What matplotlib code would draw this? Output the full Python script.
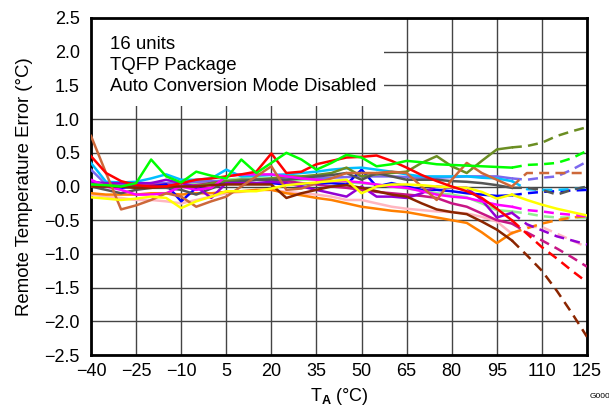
import matplotlib.pyplot as plt
from matplotlib.patches import Rectangle

plt.rcParams['font.family'] = ['Liberation Sans', 'DejaVu Sans']
plt.rcParams['mathtext.fontset'] = 'custom'
plt.rcParams['mathtext.rm'] = 'Liberation Sans'
plt.rcParams['mathtext.bf'] = 'Liberation Sans:bold'

# temperature grid (solid part) and dashed tail
temps = list(range(-40, 101, 5))
tail_temps = [100, 105, 110, 115, 120, 125]

lime = [0.03, 0.02, 0.0, 0.05, 0.40, 0.15, 0.06, 0.22, 0.16, 0.12, 0.40, 0.2, 0.35, 0.5, 0.4,
        0.25, 0.35, 0.47, 0.43, 0.3, 0.33, 0.38, 0.36, 0.33, 0.32, 0.31, 0.30, 0.29, 0.28]
lime_tail = [0.28, 0.32, 0.33, 0.35, 0.42, 0.53]

red = [0.45, 0.2, 0.08, 0.02, 0.0, 0.0, 0.05, 0.1, 0.12, 0.15, 0.18, 0.22, 0.49, 0.2, 0.22,
       0.33, 0.38, 0.43, 0.44, 0.46, 0.38, 0.28, 0.17, 0.08, 0.0, -0.07, -0.17, -0.33, -0.5]
red_tail = [-0.5, -0.7, -0.9, -1.07, -1.25, -1.42]

skyblue = [0.35, 0.07, 0.06, 0.07, 0.12, 0.18, 0.1, 0.1, 0.12, 0.25, 0.15, 0.16, 0.17, 0.18, 0.2,
           0.22, 0.25, 0.27, 0.28, 0.25, 0.22, 0.18, 0.15, 0.15, 0.15, 0.15, 0.13, 0.12, 0.08]
skyblue_tail = [0.08, -0.04, -0.05, -0.05, -0.04, -0.01]

blue = [0.02, 0.0, -0.02, 0.0, 0.0, 0.03, -0.22, -0.02, 0.05, 0.05, 0.05, 0.05, 0.05, 0.03, 0.03,
        0.05, 0.05, 0.03, 0.25, 0.0, 0.05, 0.0, -0.05, -0.05, -0.07, -0.1, -0.12, -0.14, -0.13]
blue_tail = [-0.13, -0.1, -0.08, -0.07, -0.06, -0.05]

olive = [0.05, 0.03, 0.0, -0.02, -0.02, 0.0, 0.0, 0.0, 0.05, 0.08, 0.1, 0.1, 0.12, 0.15, 0.15,
         0.17, 0.2, 0.28, 0.15, 0.18, 0.2, 0.22, 0.35, 0.45, 0.3, 0.2, 0.38, 0.55, 0.58]
olive_tail = [0.58, 0.6, 0.65, 0.75, 0.82, 0.88]

sienna = [0.75, 0.2, -0.34, -0.28, -0.2, -0.1, -0.15, -0.3, -0.22, -0.15, 0.0, 0.15, 0.3, -0.05, -0.03,
          0.05, 0.12, 0.2, 0.2, 0.2, 0.22, 0.2, 0.0, -0.2, 0.1, 0.35, 0.2, 0.1, 0.0]
sienna_tail = [0.0, 0.2, 0.2, 0.2, 0.2, 0.2]

gray = [0.0, -0.05, -0.1, -0.05, -0.02, -0.02, -0.05, -0.12, -0.03, 0.05, 0.08, 0.1, 0.1, 0.1, 0.12,
        0.15, 0.17, 0.2, 0.1, 0.2, 0.15, 0.1, 0.1, 0.1, 0.08, 0.07, 0.05, 0.02, -0.02]
gray_tail = [-0.02, -0.02, -0.05, -0.12, -0.05, 0.0]

yellow = [-0.16, -0.18, -0.2, -0.18, -0.15, -0.17, -0.32, -0.22, -0.15, -0.07, -0.07, -0.07, -0.03, 0.02, 0.04,
          0.06, 0.08, 0.1, -0.1, 0.0, 0.03, 0.03, 0.02, 0.0, -0.01, -0.02, -0.08, -0.18, -0.12]
yellow_tail = [-0.12, -0.2, -0.27, -0.33, -0.38, -0.43]

magenta = [0.1, 0.0, -0.05, -0.12, -0.12, -0.1, 0.0, -0.05, -0.02, 0.15, 0.18, 0.18, 0.18, 0.15, 0.12,
           0.1, 0.08, 0.08, 0.06, 0.03, 0.0, -0.02, -0.07, -0.12, -0.15, -0.17, -0.22, -0.27, -0.3]
magenta_tail = [-0.3, -0.35, -0.37, -0.4, -0.42, -0.44]

violet = [0.07, 0.05, 0.05, 0.05, 0.05, 0.1, 0.05, 0.0, -0.17, 0.05, 0.05, 0.05, 0.07, 0.05, 0.0,
          -0.05, -0.1, -0.15, 0.0, -0.15, -0.15, -0.17, -0.1, 0.0, -0.02, -0.02, -0.2, -0.46, -0.39]
violet_tail = [-0.39, -0.56, -0.65, -0.74, -0.8, -0.86]

slate = [0.25, 0.03, 0.02, 0.03, 0.05, 0.05, 0.06, 0.07, 0.08, 0.08, 0.1, 0.1, 0.1, 0.12, 0.12,
         0.12, 0.13, 0.14, 0.15, 0.15, 0.15, 0.14, 0.13, 0.13, 0.14, 0.15, 0.15, 0.15, 0.12]
slate_tail = [0.12, 0.1, 0.13, 0.15, 0.25, 0.37]

lightgreen = [0.0, 0.0, 0.02, 0.03, 0.05, 0.05, 0.05, 0.05, 0.07, 0.1, 0.12, 0.13, 0.12, 0.1, 0.1,
              0.1, 0.08, 0.06, 0.05, 0.03, 0.0, -0.03, -0.06, -0.1, -0.12, -0.16, -0.25, -0.35, -0.37]
lightgreen_tail = [-0.37, -0.4, -0.44, -0.46, -0.46, -0.46]

pink = [-0.12, -0.15, -0.17, -0.2, -0.2, -0.22, -0.25, -0.2, -0.15, -0.1, -0.08, -0.05, -0.05, -0.08, -0.1,
        -0.12, -0.15, -0.2, -0.2, -0.25, -0.3, -0.33, -0.35, -0.37, -0.38, -0.4, -0.45, -0.52, -0.7]
pink_tail = [-0.7, -0.6, -0.6, -0.7, -0.8, -0.9]

orange = [-0.1, -0.12, -0.12, -0.12, -0.1, -0.1, -0.12, -0.1, -0.1, -0.08, -0.07, -0.05, -0.05, -0.1, -0.13,
          -0.17, -0.2, -0.25, -0.3, -0.33, -0.36, -0.38, -0.42, -0.46, -0.5, -0.54, -0.68, -0.84, -0.69]
orange_tail = [-0.69, -0.62, -0.55, -0.5, -0.46, -0.44]

brown = [0.0, 0.0, 0.0, -0.02, -0.02, 0.0, 0.0, 0.0, 0.02, 0.03, 0.03, 0.03, 0.03, -0.17, -0.1,
         -0.05, 0.0, 0.02, -0.02, -0.07, -0.12, -0.15, -0.25, -0.34, -0.38, -0.41, -0.52, -0.64, -0.8]
brown_tail = [-0.8, -1.02, -1.25, -1.55, -1.88, -2.23]

violetred = [0.05, 0.02, 0.0, 0.0, 0.02, 0.03, 0.0, 0.02, 0.05, 0.07, 0.08, 0.1, 0.1, 0.08, 0.05,
             0.03, 0.0, -0.02, -0.05, -0.08, -0.1, -0.12, -0.14, -0.17, -0.25, -0.3, -0.4, -0.5, -0.55]
violetred_tail = [-0.55, -0.68, -0.8, -0.92, -1.05, -1.19]

series = [
    (lightgreen, lightgreen_tail, "#90EE90", True),
    (slate, slate_tail, "#7B68EE", True),
    (pink, pink_tail, "#FFB6C1", True),
    (orange, orange_tail, "#FF7F00", True),
    (violetred, violetred_tail, "#C71585", True),
    (blue, blue_tail, "#0000FF", True),
    (skyblue, skyblue_tail, "#00BFFF", True),
    (olive, olive_tail, "#6B8E23", True),
    (gray, gray_tail, "#555555", True),
    (violet, violet_tail, "#9400D3", True),
    (magenta, magenta_tail, "#FF00FF", True),
    (brown, brown_tail, "#8B2500", True),
    (sienna, sienna_tail, "#CD6839", True),
    (yellow, yellow_tail, "#FFFF00", False),
    (red, red_tail, "#FF0000", True),
    (lime, lime_tail, "#00FF00", True),
]

fig = plt.figure(figsize=(6.09, 4.08), dpi=100)
ax = fig.add_axes([91 / 609, 1 - 355 / 408, 496 / 609, 337 / 408])

for vals, tail, color, dashed in series:
    ax.plot(temps, vals, color=color, lw=1.8, zorder=3)
    ax.plot(tail_temps, tail, color=color, lw=1.8, zorder=3,
            linestyle=(0, (4, 2.5)) if dashed else '-')

ax.set_xlim(-40, 125)
ax.set_ylim(-2.5, 2.5)
ax.set_xticks(range(-40, 126, 15))
ax.set_yticks([-2.5, -2.0, -1.5, -1.0, -0.5, 0.0, 0.5, 1.0, 1.5, 2.0, 2.5])
ax.set_yticklabels(["\u22122.5", "\u22122.0", "\u22121.5", "\u22121.0", "\u22120.5", "0.0",
                    "0.5", "1.0", "1.5", "2.0", "2.5"])
ax.tick_params(length=0, labelsize=13, pad=6)
ax.tick_params(axis='y', pad=8)
ax.grid(True, color="#444444", lw=1, zorder=0)
ax.set_axisbelow(True)
for sp in ax.spines.values():
    sp.set_linewidth(2)
    sp.set_color("black")

# white box behind the annotation
ax.add_patch(Rectangle((0, 0.74), 0.59, 0.26, transform=ax.transAxes,
                       facecolor="white", edgecolor="none", zorder=1))
ax.text(0.038, 0.948, "16 units\nTQFP Package\nAuto Conversion Mode Disabled",
        transform=ax.transAxes, ha="left", va="top", fontsize=13.4,
        linespacing=1.33, zorder=4)

ax.set_ylabel("Remote Temperature Error (\u00b0C)", fontsize=13.4, labelpad=8)
ax.set_xlabel(r"T$_\mathbf{A}$ (°C)", fontsize=13, labelpad=4)
fig.text(0.968, 0.02, "G000", fontsize=6, ha="left", va="bottom")

fig.savefig("out.png", dpi=100)
